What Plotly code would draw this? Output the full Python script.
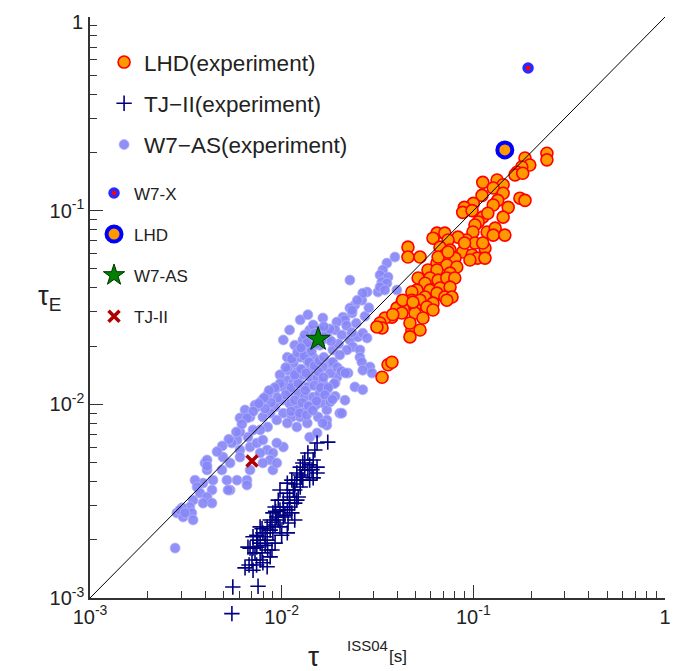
import plotly.graph_objects as go

# ---------------- data ----------------
lhd_x = [0.242,0.242,0.186,0.197,0.179,0.169,0.165,0.181,0.112,0.133,
         0.143,0.127,0.143,0.134,0.152,0.127,0.175,0.186,0.111,0.100,
         0.0898,0.088,0.0985,0.112,0.143,0.106,0.119,0.102,0.0995,0.118,
         0.130,0.127,0.146,0.092,0.102,0.115,0.088,0.0985,0.0646,0.071,
         0.0616,0.0832,0.0738,0.067,0.0756,0.0802,0.071,0.0646,0.0727,0.082,
         0.058,0.0646,0.0756,0.0594,0.0655,0.0727,0.080,0.0456,0.0456,0.0527,
         0.0515,0.056,0.0508,0.0594,0.067,0.0756,0.0478,0.056,0.0646,0.071,
         0.0774,0.0424,0.0478,0.0527,0.0616,0.0727,0.0399,0.045,0.0496,0.0572,
         0.0616,0.0376,0.0424,0.0496,0.0546,0.0346,0.0326,0.0334,0.0314,0.0478,
         0.0527,0.0467,0.0467,0.0359,0.0334,0.0376,0.038,0.0428,0.0484,
         0.105,0.096,0.115,0.090,0.112,0.0655,0.0738]
lhd_y = [0.198,0.183,0.187,0.172,0.168,0.158,0.153,0.156,0.140,0.144,
         0.136,0.131,0.123,0.113,0.104,0.107,0.116,0.113,0.120,0.109,
         0.104,0.098,0.100,0.0926,0.0926,0.0874,0.097,0.0843,0.0776,0.0776,
         0.0813,0.0748,0.0748,0.0706,0.0681,0.0641,0.0612,0.059,0.0766,0.0766,
         0.0721,0.073,0.0706,0.0648,0.0626,0.0569,0.059,0.0536,0.0524,0.0512,
         0.0494,0.0494,0.0476,0.0449,0.0438,0.0449,0.0449,0.0648,0.0576,0.0576,
         0.0449,0.0422,0.0389,0.0389,0.0399,0.0403,0.038,0.0358,0.0375,0.0358,
         0.0358,0.0337,0.0345,0.0345,0.0333,0.0345,0.0314,0.0318,0.0314,0.0318,
         0.0307,0.0282,0.0296,0.0296,0.0279,0.0279,0.0263,0.0248,0.0251,0.0242,
         0.0242,0.0223,0.0263,0.016,0.0138,0.0165,0.0291,0.0345,0.0337,
         0.0569,0.0556,0.0569,0.0681,0.0681,0.0576,0.0612]

w7as_x = [0.0354,0.0337,0.0326,0.0359,0.0333,0.0354,0.0318,0.0399,0.0279,0.0262,
          0.0227,0.0241,0.0227,0.0233,0.0209,0.0214,0.0194,0.0164,0.019,0.0206,
          0.0227,0.025,0.0265,0.0279,0.0235,0.0219,0.0256,0.0256,0.0262,0.0289,
          0.0265,0.0296,0.0241,0.0265,0.0222,0.0194,0.0179,0.0129,0.014,0.0127,
          0.0146,0.0136,0.0153,0.0164,0.0179,0.0107,0.0115,0.0108,0.012,0.0129,
          0.014,0.0153,0.0164,0.0107,0.0115,0.0127,0.0137,0.0102,0.011,0.0122,
          0.0132,0.0146,0.0158,0.0172,0.0162,0.0172,0.0172,0.0172,0.0155,0.014,
          0.0129,0.012,0.011,0.0100,0.00924,0.0102,0.0113,0.0125,0.0136,0.012,
          0.0107,0.00943,0.00871,0.00798,0.00845,0.00772,0.00709,0.00684,0.00742,0.00667,
          0.00606,0.00585,0.0055,0.00606,0.00684,0.00742,0.00798,0.0084,0.00772,0.009,
          0.00871,0.00798,0.009,0.00684,0.00659,0.00585,0.00518,0.00538,0.00488,0.00538,
          0.00606,0.00494,0.00438,0.00433,0.00398,0.00408,0.00389,0.00353,0.00362,0.00375,
          0.00408,0.00433,0.00389,0.00345,0.00332,0.00302,0.00284,0.00306,0.0034,0.00345,
          0.00278,0.014,0.0153,0.0164,0.0201,0.0102,0.00943,0.00943,0.00659,0.00525,
          0.0179,0.019,0.0206,0.0265,0.0248,0.0233,0.00408,0.00408,0.00295,0.00313,
          0.014,0.0158,0.0146,0.0132,0.0174,0.0158,0.0185,0.0201,0.0117,0.0125,
          0.0098,0.00924,0.00845,0.0079,0.00726,0.00644,0.00606,0.015,0.019,0.0214,
          0.015,0.011,0.0125,0.0137,0.0102,0.039,0.0326,0.0345,
          0.0118,0.0128,0.0142,0.0155,0.0165,0.0112,0.0122,0.0133,0.0148,0.016,0.0105,0.0117,
          0.0128,0.0138,0.0152,0.0112,0.0124,0.0135,0.0145,0.0095,0.0088,0.0082,
          0.0218,0.0245,0.0272,0.0285,0.0232,0.0198,0.0181,
          0.0105,0.0113,0.0121,0.0131,0.0139,0.0148,0.0157,0.0166,0.0143,0.0152,
          0.0162,0.0171,0.0178,0.0166,0.0149,0.0136,0.0126,0.0117,0.0126,0.0134,
          0.0098,0.0092,0.0086,0.0081,0.0076,0.0071,0.0066,0.0062,0.0058,0.0053,
          0.0049,0.0046,0.0185,0.0195,0.0205,0.0215,0.0188,0.0175,0.0168,0.0184]
w7as_y = [0.0536,0.0494,0.0465,0.0454,0.0428,0.0422,0.038,0.0389,0.038,0.0345,
          0.0438,0.0326,0.0314,0.0296,0.0282,0.0273,0.0266,0.0279,0.0242,0.0228,
          0.0215,0.0223,0.0233,0.022,0.0198,0.0191,0.0191,0.0175,0.0165,0.0156,
          0.015,0.0145,0.0123,0.0119,0.0145,0.0138,0.0163,0.0215,0.0198,0.0191,
          0.0175,0.0169,0.0163,0.0156,0.0145,0.0175,0.0163,0.015,0.0147,0.015,
          0.0138,0.0137,0.0129,0.0133,0.0129,0.0126,0.0123,0.0123,0.0116,0.0114,
          0.0109,0.0109,0.0114,0.0119,0.0102,0.00935,0.0083,0.0078,0.0086,0.0097,
          0.00935,0.0097,0.0101,0.0105,0.0097,0.009,0.0086,0.0086,0.008,0.00764,
          0.008,0.0083,0.009,0.0086,0.00764,0.00738,0.00738,0.0086,0.0097,0.00677,
          0.0072,0.00654,0.00631,0.00581,0.00602,0.00631,0.00654,0.00581,0.00561,0.00561,
          0.00516,0.00498,0.00458,0.00458,0.00406,0.00406,0.00406,0.00361,0.00458,0.00498,
          0.00534,0.00534,0.00406,0.00361,0.00498,0.00458,0.00392,0.00406,0.00374,0.00348,
          0.00332,0.00309,0.00309,0.0032,0.00295,0.00292,0.00275,0.00262,0.00275,0.00253,
          0.00181,0.00677,0.00711,0.008,0.009,0.00602,0.00631,0.00498,0.00383,0.00361,
          0.0103,0.0129,0.009,0.0375,0.0345,0.0306,0.00516,0.0048,0.00285,0.00275,
          0.0242,0.0242,0.0257,0.0228,0.022,0.0202,0.0191,0.018,0.0202,0.0175,
          0.0142,0.0119,0.0112,0.0105,0.0099,0.00935,0.0085,0.0099,0.011,0.0105,
          0.0156,0.0242,0.0273,0.029,0.0215,0.0576,0.0403,0.0389,
          0.0138,0.0142,0.0152,0.0148,0.0138,0.0122,0.0128,0.0118,0.0125,0.0122,0.0112,0.0105,
          0.0102,0.0098,0.0104,0.0092,0.009,0.0088,0.0093,0.0108,0.0102,0.0095,
          0.0255,0.0262,0.0285,0.0315,0.0235,0.0205,0.0212,
          0.0155,0.0172,0.0185,0.0178,0.0165,0.0158,0.0168,0.0175,0.0188,0.0205,
          0.0215,0.0232,0.0245,0.0252,0.0232,0.0208,0.0196,0.0142,0.0152,0.0145,
          0.0128,0.0122,0.0118,0.0108,0.0101,0.0092,0.0085,0.0079,0.0072,0.0066,
          0.0061,0.0057,0.0165,0.0155,0.0148,0.0145,0.0128,0.0122,0.0112,0.0106]

tj_x = [0.0055,0.00556,0.00753,0.00676,0.00709,0.00798,0.0084,0.00684,0.00742,0.00871,
        0.0089,0.0174,0.0153,0.0149,0.0146,0.0153,0.0153,0.0146,0.0137,0.0129,
        0.0125,0.012,0.0129,0.0125,0.0113,0.0115,0.0107,0.0122,0.011,0.0098,
        0.0096,0.0102,0.00924,0.009,0.0102,0.0113,0.0117,0.0108,0.0098,0.00871,
        0.0084,0.00772,0.009,0.01,0.0107,0.00798,0.00742,0.00709,0.0084,0.00924,
        0.00772,0.00845,0.0079,0.00772,0.00726,0.00667,0.00709,0.0127,0.0117,0.0107,
        0.00943,0.0107,0.0137,0.0132,0.014,0.0117,0.011,0.0102,0.0093,0.00871,
        0.0082,0.0089,0.0096,0.0104,0.0125,0.0132,0.0117,0.0082,0.0075,0.0079,
        0.00924,0.0098,0.011,0.012,0.014,0.0144,0.012,0.007,0.0074,0.00644]
tj_y = [0.00083,0.00114,0.00115,0.00148,0.00139,0.00152,0.00145,0.00181,0.00183,0.00163,
        0.00177,0.00638,0.00631,0.00581,0.00516,0.00474,0.00442,0.00417,0.00458,0.00498,
        0.00474,0.00442,0.00406,0.00374,0.00406,0.00361,0.00348,0.00332,0.00309,0.00361,
        0.0032,0.00295,0.00295,0.00275,0.00262,0.00275,0.00253,0.00244,0.00233,0.00253,
        0.00233,0.00233,0.00217,0.00211,0.00217,0.00217,0.00211,0.00207,0.00199,0.00192,
        0.00192,0.00177,0.00171,0.00157,0.00171,0.00183,0.00181,0.00421,0.00309,0.00285,
        0.00262,0.00392,0.00561,0.00516,0.00406,0.00361,0.00332,0.0032,0.0028,0.00224,
        0.00207,0.00246,0.00253,0.00268,0.00432,0.00458,0.00388,0.00187,0.00199,0.00228,
        0.00238,0.00285,0.00295,0.0032,0.00487,0.0046,0.00406,0.00157,0.00148,0.00143]

w7x_x, w7x_y = [0.193], [0.545]
lhd_model_x, lhd_model_y = [0.146], [0.206]
w7as_model_x, w7as_model_y = [0.0155], [0.0217]
tj_model_x, tj_model_y = [0.0070], [0.0051]

diag = [0.001, 1.0]

major_ticks = [0.001, 0.01, 0.1, 1]
x_tick_text = ["10<sup>-3</sup>", "10<sup>-2</sup>", "10<sup>-1</sup>", "1"]
y_tick_text = ["10<sup>-3</sup>", "10<sup>-2</sup>", "10<sup>-1</sup>", ""]
y_top_label = "1"
minor_ticks = [m * d for d in (0.001, 0.01, 0.1) for m in range(2, 10)]

FONT = "Liberation Sans, Arial, sans-serif"
TXT = "#222222"

# layout geometry: paper area 575 x 614 px; main y axis occupies the upper part,
# a hidden twin y axis (same scale) spans the full paper height so that the
# single TJ-II point below 10^-3 can still be drawn, as in the original.
PAPER_H = 614.0
EXTRA = 33.0
DEC = (PAPER_H - EXTRA) / 3.0
y_dom0 = EXTRA / PAPER_H
y2_lo = -3 - EXTRA / DEC

fig = go.Figure()

fig.add_trace(go.Scatter(
    x=w7as_x, y=w7as_y, mode="markers", name="W7\u2212AS(experiment)",
    legend="legend", legendgroup="a3", legendrank=3,
    marker=dict(symbol="circle", size=10, color="rgba(135,135,246,0.92)",
                line=dict(color="rgba(178,178,252,1)", width=0.8))))
fig.add_trace(go.Scatter(
    x=tj_x, y=tj_y, xaxis="x", yaxis="y2", mode="markers", name="TJ\u2212II(experiment)",
    legend="legend", legendgroup="a2", legendrank=2,
    marker=dict(symbol="cross-thin", size=11, color="#000080",
                line=dict(color="#000080", width=1.6))))
fig.add_trace(go.Scatter(
    x=lhd_x, y=lhd_y, mode="markers", name="LHD(experiment)",
    legend="legend", legendgroup="a1", legendrank=1,
    marker=dict(symbol="circle", size=12, color="#FF9900",
                line=dict(color="#FF0000", width=1.6))))

fig.add_trace(go.Scatter(x=diag, y=diag, mode="lines", showlegend=False,
                         line=dict(color="black", width=1), hoverinfo="skip"))

fig.add_trace(go.Scatter(
    x=w7x_x, y=w7x_y, mode="markers", name="W7-X", legend="legend2",
    legendgroup="b1", legendrank=1,
    marker=dict(symbol="circle", size=8, color="#FF0000",
                line=dict(color="#2a2aff", width=3.5))))
fig.add_trace(go.Scatter(
    x=lhd_model_x, y=lhd_model_y, mode="markers", name="LHD", legend="legend2",
    legendgroup="b2", legendrank=2,
    marker=dict(symbol="circle", size=15, color="#FF9900",
                line=dict(color="#0000FF", width=4))))
fig.add_trace(go.Scatter(
    x=w7as_model_x, y=w7as_model_y, mode="markers", name="W7-AS", legend="legend2",
    legendgroup="b3", legendrank=3,
    marker=dict(symbol="star", size=18, color="#007F00",
                line=dict(color="#003300", width=1))))
fig.add_trace(go.Scatter(
    x=tj_model_x, y=tj_model_y, mode="markers", name="TJ-II", legend="legend2",
    legendgroup="b4", legendrank=4,
    marker=dict(symbol="x-thin", size=11, color="#B00000",
                line=dict(color="#B00000", width=3.5))))

axis_common = dict(
    type="log", range=[-3, 0], showline=True, linecolor="#333333", linewidth=1.5,
    mirror=False, ticks="inside", ticklen=13, tickwidth=1.2, tickcolor="#333333",
    tickvals=major_ticks, ticklabeloverflow="allow",
    tickfont=dict(size=20, family=FONT, color=TXT),
    showgrid=False, zeroline=False, automargin=False,
    minor=dict(tickvals=minor_ticks, ticks="inside", ticklen=7, tickwidth=1,
               tickcolor="#333333", showgrid=False),
)

# the page body adds an 8 px offset; margins compensate so the plot lands
# where the original has it
fig.update_layout(
    width=681, height=671,
    margin=dict(l=82, r=24, t=9, b=48),
    paper_bgcolor="white", plot_bgcolor="rgba(0,0,0,0)",
    font=dict(family=FONT, color=TXT),
    xaxis=dict(axis_common, domain=[0, 1], anchor="y", ticktext=x_tick_text),
    yaxis=dict(axis_common, domain=[y_dom0, 1], anchor="x", ticktext=y_tick_text),
    yaxis2=dict(type="log", range=[y2_lo, 0], domain=[0, 1], anchor="x",
                visible=False, showgrid=False, zeroline=False, automargin=False),
    legend=dict(x=0.0245, y=0.961, xanchor="left", yanchor="top",
                bgcolor="rgba(0,0,0,0)", font=dict(size=22.5, family=FONT, color=TXT),
                tracegroupgap=9, itemsizing="trace"),
    legend2=dict(x=0.007, y=0.742, xanchor="left", yanchor="top",
                 bgcolor="rgba(0,0,0,0)", font=dict(size=17, family=FONT, color=TXT),
                 tracegroupgap=16, itemsizing="trace"),
    annotations=[
        dict(text=y_top_label, xref="paper", yref="paper", x=-0.0087, y=0.992,
             xanchor="right", yanchor="middle", showarrow=False,
             font=dict(size=20, family=FONT, color=TXT)),
        dict(text="\u03c4<sub>E</sub>", xref="paper", yref="paper",
             x=-0.094, y=0.542, showarrow=False,
             font=dict(size=27, family=FONT, color=TXT)),
        dict(text="\u03c4", xref="paper", yref="paper", x=0.388, y=-0.042,
             xanchor="center", yanchor="middle", showarrow=False,
             font=dict(size=28, family=FONT, color=TXT)),
        dict(text="ISS04", xref="paper", yref="paper", x=0.4435, y=-0.0244,
             xanchor="left", yanchor="middle", showarrow=False,
             font=dict(size=15, family=FONT, color=TXT)),
        dict(text="[s]", xref="paper", yref="paper", x=0.516, y=-0.042,
             xanchor="left", yanchor="middle", showarrow=False,
             font=dict(size=17, family=FONT, color=TXT)),
    ],
)

fig.write_html("out.html")
